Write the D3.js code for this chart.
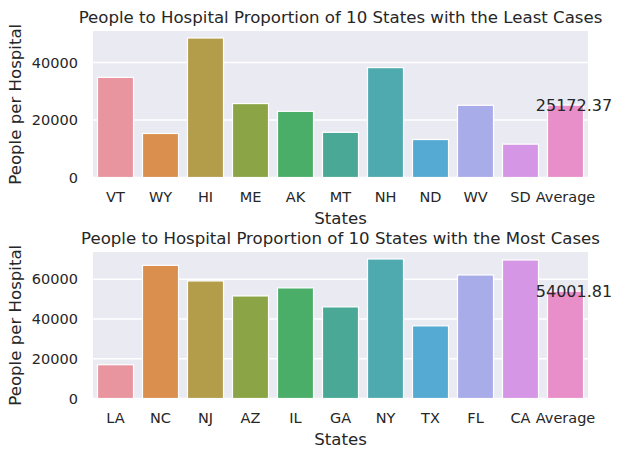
<!DOCTYPE html>
<html>
<head>
<meta charset="utf-8">
<script src="https://cdn.jsdelivr.net/npm/d3@7"></script>
<style>
  body { margin: 0; background: #fff; }
  text { font-family: "DejaVu Sans", sans-serif; fill: #262626; }
</style>
</head>
<body>
<div id="chart"></div>
<script>
const width = 624;
const height = 458;

// least cases panel
const leastStates = ["VT", "WY", "HI", "ME", "AK", "MT", "NH", "ND", "WV", "SD", "Average"];
const leastValues = [34800, 15300, 48500, 25700, 23000, 15700, 38200, 13200, 25100, 11600, 25172.37];
const leastTicks = [0, 20000, 40000];

// most cases panel
const mostStates = ["LA", "NC", "NJ", "AZ", "IL", "GA", "NY", "TX", "FL", "CA", "Average"];
const mostValues = [17000, 67000, 59150, 51600, 55650, 46100, 70200, 36550, 62150, 69700, 54001.81];
const mostTicks = [0, 20000, 40000, 60000];

const titles = [
  "People to Hospital Proportion of 10 States with the Least Cases",
  "People to Hospital Proportion of 10 States with the Most Cases"
];

// seaborn husl palette (desaturated)
const palette = ["#e8959f", "#da8f4e", "#b39c4a", "#8ba546", "#4aae68", "#4aa996",
  "#4eaaaf", "#54aad2", "#a8ace9", "#d696e6", "#e88ec8"];

const svg = d3.select("#chart")
  .append("svg")
  .attr("width", width)
  .attr("height", height);

drawPanel(leastStates, leastValues, leastTicks, titles[0], 31, 177.5);
drawPanel(mostStates, mostValues, mostTicks, titles[1], 252, 398.5);

function drawPanel(states, values, ticks, title, top, bottom) {
  const left = 93;
  const right = 588;

  const x = d3.scaleBand()
    .domain(states)
    .range([left, right])
    .paddingInner(0.2)
    .paddingOuter(0.1);

  const y = d3.scaleLinear()
    .domain([0, d3.max(values) * 1.05])
    .range([bottom, top]);

  const g = svg.append("g");

  g.append("rect")
    .attr("x", left)
    .attr("y", top)
    .attr("width", right - left)
    .attr("height", bottom - top)
    .attr("fill", "#eaeaf2");

  g.append("g")
    .selectAll("line")
    .data(ticks)
    .join("line")
    .attr("x1", left)
    .attr("x2", right)
    .attr("y1", d => y(d))
    .attr("y2", d => y(d))
    .attr("stroke", "#fff")
    .attr("stroke-width", 1.5);

  g.append("g")
    .selectAll("rect")
    .data(values)
    .join("rect")
    .attr("x", (d, i) => x(states[i]))
    .attr("y", d => y(d))
    .attr("width", x.bandwidth())
    .attr("height", d => y(0) - y(d))
    .attr("fill", (d, i) => palette[i])
    .attr("stroke", "#fff")
    .attr("stroke-width", 1.2);

  // y axis
  const yAxis = g.append("g")
    .attr("transform", `translate(${left},0)`)
    .call(d3.axisLeft(y).tickValues(ticks).tickFormat(d3.format("d")).tickSize(0).tickPadding(15));
  yAxis.select(".domain").remove();
  yAxis.selectAll("text")
    .style("font-size", "14.5px")
    .attr("fill", "#262626");

  // x axis
  const xAxis = g.append("g")
    .attr("transform", `translate(0,${bottom})`)
    .call(d3.axisBottom(x).tickSize(0).tickPadding(14));
  xAxis.select(".domain").remove();
  xAxis.selectAll("text")
    .style("font-size", "14.5px")
    .attr("fill", "#262626");

  // average label
  const avg = values[values.length - 1];
  g.append("text")
    .attr("x", x("Average") + x.bandwidth() / 2 - x.step() * 0.66)
    .attr("y", y(avg))
    .attr("dominant-baseline", "central")
    .style("font-size", "16px")
    .text(avg.toFixed(2));

  g.append("text")
    .attr("x", (left + right) / 2)
    .attr("y", top - 8.5)
    .attr("text-anchor", "middle")
    .style("font-size", "16.6px")
    .text(title);

  g.append("text")
    .attr("x", (left + right) / 2)
    .attr("y", bottom + 46)
    .attr("text-anchor", "middle")
    .style("font-size", "16.6px")
    .text("States");

  g.append("text")
    .attr("transform", `translate(21,${(top + bottom) / 2}) rotate(-90)`)
    .attr("text-anchor", "middle")
    .style("font-size", "16.6px")
    .text("People per Hospital");
}
</script>
</body>
</html>
